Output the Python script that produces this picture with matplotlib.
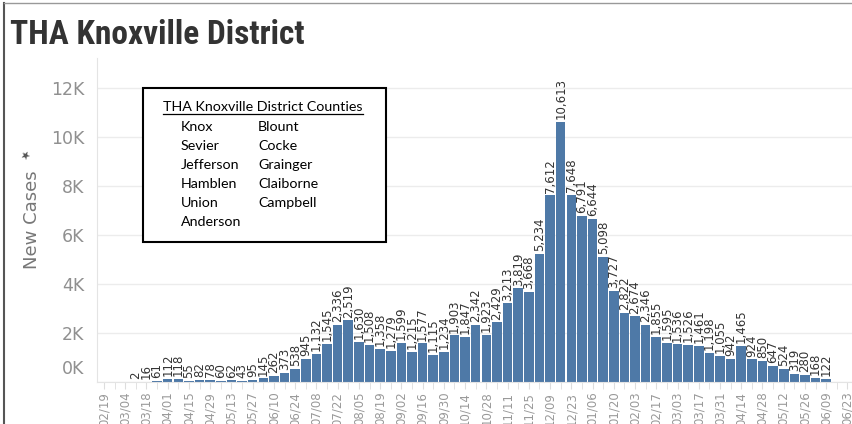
import matplotlib
matplotlib.use("Agg")
import matplotlib.pyplot as plt
import matplotlib.dates as mdates
import matplotlib.transforms as mtransforms
from matplotlib.patches import Rectangle
from matplotlib.lines import Line2D
import pandas as pd

# weekly new cases, first reported week is 03/11/2020
first_week = "2020-03-11"
new_cases = [
    2, 16, 61, 112, 118, 55, 82, 78, 60, 62, 43,
    95, 145, 262, 373, 538, 945, 1132, 1545,
    2336, 2519, 1630, 1508, 1358, 1279, 1599, 1215, 1577, 1115,
    1234, 1903, 1847, 2342, 1923, 2429, 3213, 3819, 3668, 5234,
    7612, 10613, 7648, 6791, 6644, 5098, 3727, 2822, 2674, 2346,
    1855, 1595, 1536, 1526, 1461, 1198, 1055, 942, 1465, 924,
    850, 647, 524, 319, 280, 168, 122,
]
axis_start = "2020-02-19"
axis_end = "2021-06-23"
y_ticks = [0, 2000, 4000, 6000, 8000, 10000, 12000]
y_tick_labels = ["0K", "2K", "4K", "6K", "8K", "10K", "12K"]

counties_left = ["Knox", "Sevier", "Jefferson", "Hamblen", "Union", "Anderson"]
counties_right = ["Blount", "Cocke", "Grainger", "Claiborne", "Campbell"]

BAR_COLOR = "#4e79a7"
W, H = 852, 424


def fx(px):
    return px / W


def fy(py):
    return 1 - py / H


weeks = pd.date_range(first_week, periods=len(new_cases), freq="7D")
all_weeks = pd.date_range(axis_start, axis_end, freq="7D")

fig = plt.figure(figsize=(W / 100, H / 100), dpi=100)
ax = fig.add_axes([fx(97), fy(382), fx(852 - 97), (382 - 58) / H])

ax.bar(weeks, new_cases, width=6.3, color=BAR_COLOR, edgecolor="none", zorder=2)
for d, v in zip(weeks, new_cases):
    ax.annotate(f"{v:,}", (d, v), xytext=(0, 2), textcoords="offset points",
                rotation=90, ha="center", va="bottom", fontsize=8.5,
                color="#333333", zorder=3)

ax.set_xlim(all_weeks[0] - pd.Timedelta(days=4.6), all_weeks[-1] + pd.Timedelta(days=3))
ax.set_ylim(0, 13224)

ax.set_yticks(y_ticks)
ax.set_yticklabels(y_tick_labels)
ax.tick_params(axis="y", length=0, pad=9, labelsize=12.5, labelcolor="#909090")
# Tableau pushes the zero label up off the baseline
zero_lbl = ax.get_yticklabels()[0]
zero_lbl.set_transform(zero_lbl.get_transform() + mtransforms.ScaledTranslation(0, 0.15, fig.dpi_scale_trans))

ax.set_xticks(all_weeks[::2])
ax.set_xticks(all_weeks, minor=True)
ax.xaxis.set_major_formatter(mdates.DateFormatter("%m/%d"))
ax.tick_params(axis="x", which="both", length=5, color="#dddddd", labelsize=8.5,
               labelcolor="#999999", rotation=90, pad=2)

ax.grid(axis="y", color="#ececec", linewidth=1, zorder=0)
for side in ["top", "right"]:
    ax.spines[side].set_visible(False)
ax.spines["left"].set_color("#e4e4e4")
ax.spines["bottom"].set_color("#e4e4e4")

ax.set_ylabel("New Cases", fontsize=13, color="#777777", labelpad=7)
# pin glyph above the axis title
fig.text(fx(27), fy(156), "\u2605", fontsize=8, color="#555555", ha="center", va="center",
         rotation=45)

fig.text(fx(10), fy(44), "THA Knoxville District", fontsize=24, fontweight="bold",
         color="#333333", va="baseline", ha="left",
         family=["Roboto Condensed", "Roboto", "DejaVu Sans"])

# screenshot frame
fig.add_artist(Line2D([fx(4), fx(4)], [0, fy(3)], color="#555555", lw=1.5))
fig.add_artist(Line2D([fx(4), 1], [fy(3), fy(3)], color="#999999", lw=1))

# county box
fig.add_artist(Rectangle((fx(143), fy(242)), fx(386 - 143), (242 - 88) / H,
                         facecolor="white", edgecolor="black", lw=1.5, zorder=5))
box_font = dict(fontsize=10.3, color="black", family=["Lato", "DejaVu Sans"], zorder=6)
fig.text(fx(163), fy(107), "THA Knoxville District Counties", va="center", ha="left", **box_font)
fig.add_artist(Line2D([fx(163), fx(363)], [fy(114), fy(114)], color="black", lw=0.9, zorder=6))
row_y = [127, 146, 165, 184, 203, 222]
for y, name in zip(row_y, counties_left):
    fig.text(fx(181), fy(y), name, va="center", ha="left", **box_font)
for y, name in zip(row_y, counties_right):
    fig.text(fx(258), fy(y), name, va="center", ha="left", **box_font)

fig.savefig("out.png", dpi=100)
